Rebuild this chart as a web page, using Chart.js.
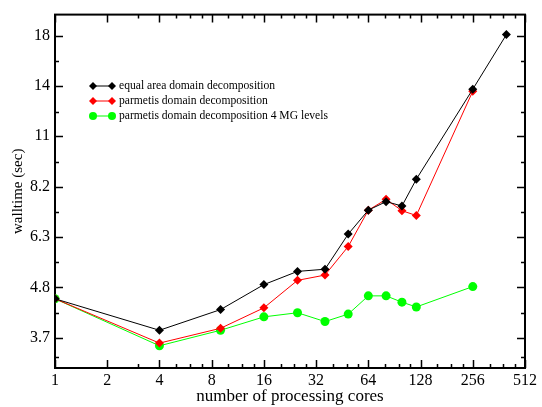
<!DOCTYPE html>
<html lang="en">
<head>
<meta charset="UTF-8">
<title>walltime vs cores</title>
<script src="https://cdn.jsdelivr.net/npm/chart.js"></script>
<style>
  html, body { margin: 0; padding: 0; background: #fff; }
  #wrap { width: 542px; height: 407px; position: relative; }
</style>
</head>
<body>
<div id="wrap"><canvas id="myChart"></canvas></div>
<script>
// data
const xTickVals = [1, 2, 4, 8, 16, 32, 64, 128, 256, 512];
const xMinorVals = [3, 5, 6, 7, 10, 12, 14, 20, 24, 28, 40, 48, 56, 80, 96, 112, 160, 192, 224, 320, 384, 448];
const yTickVals = [3.7, 4.82, 6.27, 8.16, 10.63, 13.83, 18.0];
const yTickLabels = ['3.7', '4.8', '6.3', '8.2', '11', '14', '18'];
const yMinorVals = [3.35, 4.22, 5.5, 7.15, 9.3, 12.1, 15.8];

const coresEqual = [1, 4, 9, 16, 25, 36, 49, 64, 81, 100, 121, 256, 400];
const timeEqual = [4.54, 3.85, 4.29, 4.89, 5.24, 5.30, 6.37, 7.22, 7.55, 7.38, 8.49, 13.6, 18.1];
const coresParmetis = [1, 4, 9, 16, 25, 36, 49, 64, 81, 100, 121, 256];
const timeParmetis = [4.54, 3.60, 3.89, 4.33, 5.00, 5.14, 5.97, 7.22, 7.64, 7.20, 7.02, 13.46];
const coresMG = [1, 4, 9, 16, 25, 36, 49, 64, 81, 100, 121, 256];
const timeMG = [4.54, 3.55, 3.85, 4.13, 4.22, 4.03, 4.19, 4.61, 4.61, 4.46, 4.35, 4.84];

const seriesNames = ['equal area domain decomposition', 'parmetis domain decomposition', 'parmetis domain decomposition 4 MG levels'];
const seriesColors = ['#000000', '#ff0000', '#00ff00'];

function pts(xs, ys) {
  let out = [];
  for (let i = 0; i < xs.length; i++) out.push({ x: xs[i], y: ys[i] });
  return out;
}

const serif = 'Liberation Serif, Times New Roman, serif';

// frame + inward ticks like the original plot
const framePlugin = {
  id: 'frame',
  beforeDatasetsDraw(chart) {
    const ctx = chart.ctx;
    const a = chart.chartArea;
    const xs = chart.scales.x, ys = chart.scales.y;
    ctx.save();
    ctx.strokeStyle = '#000';
    ctx.lineWidth = 1.5;
    ctx.beginPath();
    function tx(v, len) {
      const p = Math.round(xs.getPixelForValue(v)) + 0.5;
      ctx.moveTo(p, a.bottom); ctx.lineTo(p, a.bottom - len);
      ctx.moveTo(p, a.top); ctx.lineTo(p, a.top + len);
    }
    function ty(v, len) {
      const p = Math.round(ys.getPixelForValue(v)) + 0.5;
      ctx.moveTo(a.left, p); ctx.lineTo(a.left + len, p);
      ctx.moveTo(a.right, p); ctx.lineTo(a.right - len, p);
    }
    xTickVals.forEach(v => tx(v, 8));
    xMinorVals.forEach(v => tx(v, 4));
    yTickVals.forEach(v => ty(v, 8));
    yMinorVals.forEach(v => ty(v, 4));
    ctx.stroke();
    ctx.lineWidth = 2;
    ctx.strokeRect(a.left, a.top, a.right - a.left, a.bottom - a.top);
    ctx.restore();
  }
};

// legend drawn like xmgrace: line with a marker on each end
const legendPlugin = {
  id: 'gLegend',
  afterDatasetsDraw(chart) {
    const ctx = chart.ctx;
    const rows = [86, 101, 116];
    ctx.save();
    ctx.font = '11.6px ' + serif;
    ctx.textBaseline = 'middle';
    for (let i = 0; i < seriesNames.length; i++) {
      const y = rows[i];
      ctx.strokeStyle = seriesColors[i];
      ctx.fillStyle = seriesColors[i];
      ctx.lineWidth = 1;
      ctx.beginPath();
      ctx.moveTo(93, y); ctx.lineTo(112, y);
      ctx.stroke();
      [93, 112].forEach(x => {
        ctx.beginPath();
        if (i == 2) {
          ctx.arc(x, y, 4, 0, Math.PI * 2);
        } else {
          ctx.moveTo(x, y - 4); ctx.lineTo(x + 4, y); ctx.lineTo(x, y + 4); ctx.lineTo(x - 4, y);
          ctx.closePath();
        }
        ctx.fill();
      });
      ctx.fillStyle = '#000';
      ctx.fillText(seriesNames[i], 119, y);
    }
    ctx.restore();
  }
};

function makeSet(i, data, style, r) {
  return {
    label: seriesNames[i],
    data: data,
    borderColor: seriesColors[i],
    backgroundColor: seriesColors[i],
    borderWidth: 1,
    pointStyle: style,
    pointRadius: r,
    pointBorderWidth: 0,
    tension: 0
  };
}

const config = {
  type: 'line',
  data: {
    datasets: [
      makeSet(0, pts(coresEqual, timeEqual), 'rectRot', 4.5),
      makeSet(1, pts(coresParmetis, timeParmetis), 'rectRot', 4.5),
      makeSet(2, pts(coresMG, timeMG), 'circle', 4.5)
    ]
  },
  options: {
    responsive: true,
    maintainAspectRatio: false,
    animation: false,
    layout: { padding: { top: 5, right: 17, left: 0, bottom: 0 } },
    plugins: { legend: { display: false }, tooltip: { enabled: false } },
    scales: {
      x: {
        type: 'logarithmic',
        min: 1, max: 512,
        afterBuildTicks(s) { s.ticks = xTickVals.map(v => ({ value: v })); },
        afterFit(s) { s.height = 39; },
        grid: { display: false, drawTicks: false },
        border: { display: false },
        ticks: {
          autoSkip: false, maxRotation: 0, padding: 3,
          color: '#000',
          font: { family: serif, size: 16 },
          callback: v => String(v)
        },
        title: {
          display: true, text: 'number of processing cores',
          color: '#000', font: { family: serif, size: 17 }, padding: 0
        }
      },
      y: {
        type: 'logarithmic',
        min: 3.16, max: 20.1,
        afterBuildTicks(s) { s.ticks = yTickVals.map(v => ({ value: v })); },
        afterFit(s) { s.width = 55; },
        grid: { display: false, drawTicks: false },
        border: { display: false },
        ticks: {
          autoSkip: false, padding: 5,
          color: '#000',
          font: { family: serif, size: 16 },
          callback: function (v) {
            const k = yTickVals.indexOf(v);
            return k >= 0 ? yTickLabels[k] : '';
          }
        },
        title: {
          display: true, text: 'walltime (sec)',
          color: '#000', font: { family: serif, size: 15 }, padding: { top: 9, bottom: 0 }
        }
      }
    }
  },
  plugins: [framePlugin, legendPlugin]
};

new Chart(document.getElementById('myChart'), config);
</script>
</body>
</html>
